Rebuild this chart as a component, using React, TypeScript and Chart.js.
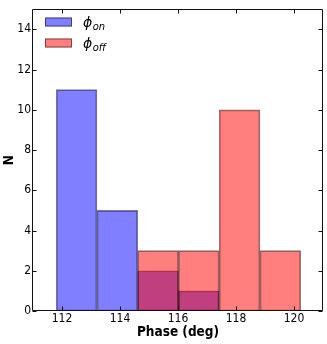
import React, { useEffect, useRef } from "react";
import { Chart, registerables } from "chart.js";

Chart.register(...registerables);

// ---- data ----
const binEdges = [111.8, 113.205, 114.61, 116.015, 117.42, 118.825, 120.23];
const onCounts = [11, 5, 2, 1, 0, 0];
const offCounts = [0, 0, 3, 3, 10, 3];
const xTicks = [112, 114, 116, 118, 120];
const yTicks = [0, 2, 4, 6, 8, 10, 12, 14];
const legendSymbol = "ϕ";
const legendSubs = ["on", "off"];
const xTitle = "Phase (deg)";
const yTitle = "N";

const BLUE = "rgba(0,0,255,0.5)";
const RED = "rgba(255,0,0,0.5)";
const EDGE = "rgba(0,0,0,0.5)";
const FONT = "'DejaVu Sans Condensed', 'DejaVu Sans', sans-serif";

function toPoints(counts: number[]) {
  const pts: { x: number; y: number }[] = [];
  counts.forEach((c, i) => {
    if (c > 0) pts.push({ x: (binEdges[i] + binEdges[i + 1]) / 2, y: c });
  });
  return pts;
}

const decorPlugin = {
  id: "decor",
  afterDatasetsDraw(chart: any) {
    const { ctx, chartArea: a, scales } = chart;
    ctx.save();
    ctx.strokeStyle = "#111";
    ctx.lineWidth = 1;
    const L = Math.round(a.left) - 0.5;
    const R = Math.round(a.right) - 0.5;
    const T = Math.round(a.top) + 0.5;
    const B = Math.round(a.bottom) - 0.5;
    ctx.beginPath();
    ctx.rect(L, T, R - L, B - T);
    ctx.stroke();
    const tl = 4;
    ctx.beginPath();
    xTicks.forEach((v) => {
      const px = Math.round(scales.x.getPixelForValue(v)) + 0.5;
      ctx.moveTo(px, B);
      ctx.lineTo(px, B - tl);
      ctx.moveTo(px, T);
      ctx.lineTo(px, T + tl);
    });
    yTicks.forEach((v) => {
      const py = Math.round(scales.y.getPixelForValue(v)) + 0.5;
      ctx.moveTo(L, py);
      ctx.lineTo(L + tl, py);
      ctx.moveTo(R, py);
      ctx.lineTo(R - tl, py);
    });
    ctx.stroke();

    // legend
    const fills = [BLUE, RED];
    const rowsY = [17.5, 38.5];
    fills.forEach((f, i) => {
      const y = rowsY[i];
      ctx.fillStyle = "#fff";
      ctx.fillRect(45, y, 27, 9);
      ctx.fillStyle = f;
      ctx.fillRect(45, y, 27, 9);
      ctx.strokeStyle = EDGE;
      ctx.strokeRect(45.5, y + 0.5, 26, 8);
      ctx.fillStyle = "#000";
      ctx.textBaseline = "alphabetic";
      ctx.textAlign = "left";
      ctx.font = `italic 14px 'DejaVu Sans', sans-serif`;
      ctx.fillText(legendSymbol, 83, y + 9.5);
      const w = ctx.measureText(legendSymbol).width;
      ctx.font = `italic 10px 'DejaVu Sans', sans-serif`;
      ctx.fillText(legendSubs[i], 83 + w + 0.5, y + 12.5);
    });
    ctx.restore();
  },
};

export default function App() {
  const ref = useRef<HTMLCanvasElement | null>(null);
  useEffect(() => {
    document.body.style.margin = "0";
    const canvas = ref.current!;
    const chart = new Chart(canvas, {
      type: "bar",
      data: {
        datasets: [
          {
            label: "on",
            data: toPoints(onCounts),
            backgroundColor: BLUE,
            borderColor: EDGE,
            borderWidth: 1,
            borderSkipped: false,
            barPercentage: 1,
            categoryPercentage: 1,
            grouped: false,
            order: 1,
          } as any,
          {
            label: "off",
            data: toPoints(offCounts),
            backgroundColor: RED,
            borderColor: EDGE,
            borderWidth: 1,
            borderSkipped: false,
            barPercentage: 1,
            categoryPercentage: 1,
            grouped: false,
            order: 0,
          } as any,
        ],
      },
      options: {
        responsive: false,
        animation: false,
        events: [],
        layout: { padding: { top: 4, right: 4, left: 0, bottom: 0 } },
        plugins: { legend: { display: false }, tooltip: { enabled: false } },
        scales: {
          x: {
            type: "linear",
            min: 111,
            max: 121,
            offset: false,
            grid: { display: false, drawTicks: false },
            border: { display: false },
            afterBuildTicks: (s: any) => {
              s.ticks = xTicks.map((v) => ({ value: v }));
            },
            afterFit: (s: any) => {
              s.height = 33;
            },
            ticks: {
              autoSkip: false,
              maxRotation: 0,
              padding: 1,
              color: "#000",
              font: { family: FONT, size: 12 },
              callback: (v: any) => String(v),
            },
            title: {
              display: true,
              text: xTitle,
              color: "#000",
              font: { family: FONT, size: 13.5, weight: "bold" },
              padding: { top: 0, bottom: 3 },
            },
          },
          y: {
            type: "linear",
            min: 0,
            max: 15,
            grid: { display: false, drawTicks: false },
            border: { display: false },
            afterBuildTicks: (s: any) => {
              s.ticks = yTicks.map((v) => ({ value: v }));
            },
            afterFit: (s: any) => {
              s.width = 33;
            },
            ticks: {
              autoSkip: false,
              padding: 2,
              color: "#000",
              font: { family: FONT, size: 12 },
              callback: (v: any) => String(v),
            },
            title: {
              display: true,
              text: yTitle,
              color: "#000",
              font: { family: FONT, size: 13.5, weight: "bold" },
              padding: { top: 1, bottom: 0 },
            },
          },
        },
      } as any,
      plugins: [decorPlugin],
    });
    return () => chart.destroy();
  }, []);
  return (
    <div style={{ width: 327, height: 344, background: "#fff" }}>
      <canvas ref={ref} width={327} height={344} style={{ display: "block" }} />
    </div>
  );
}
